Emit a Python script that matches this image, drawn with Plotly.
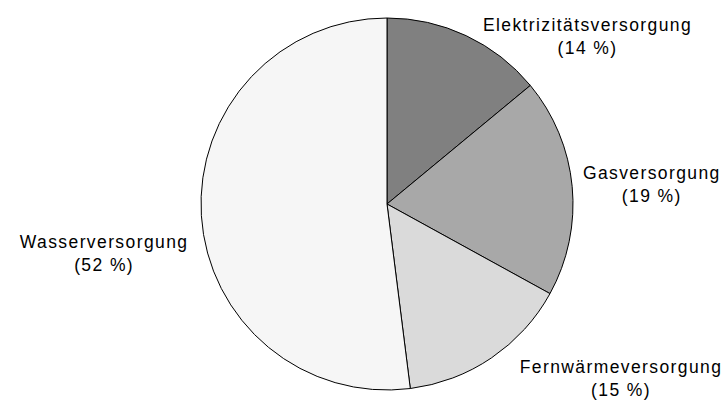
import plotly.graph_objects as go

labels = ["Elektrizitätsversorgung", "Gasversorgung", "Fernwärmeversorgung", "Wasserversorgung"]
values = [14, 19, 15, 52]
colors = ["#808080", "#a8a8a8", "#dadada", "#f6f6f6"]

fig = go.Figure(go.Pie(
    labels=labels, values=values, sort=False, direction="clockwise", rotation=0,
    marker=dict(colors=colors, line=dict(color="black", width=1)),
    textinfo="none", hoverinfo="label+percent", showlegend=False,
    domain=dict(x=[201/728, 573/728], y=[11/401, 383/401]),
))

label_pos = [(587, 36.5), (652, 184), (621, 378), (104, 253)]
for (lab, v), (px, py) in zip(zip(labels, values), label_pos):
    fig.add_annotation(text=f"{lab}<br>({v} %)", x=px/728, y=1-py/401,
                       xref="paper", yref="paper", showarrow=False,
                       xanchor="center", yanchor="middle", align="center",
                       font=dict(family="Liberation Sans, Arial", size=17.5, color="black"))

fig.update_layout(width=728, height=401, margin=dict(l=0, r=0, t=0, b=0),
                  paper_bgcolor="white", plot_bgcolor="white")
post = """
document.body.style.margin='0';
document.querySelectorAll('.annotation-text').forEach(function(e){e.style.letterSpacing='1.4px';});
"""
fig.write_html("out.html", post_script=post, config={"displayModeBar": False})
